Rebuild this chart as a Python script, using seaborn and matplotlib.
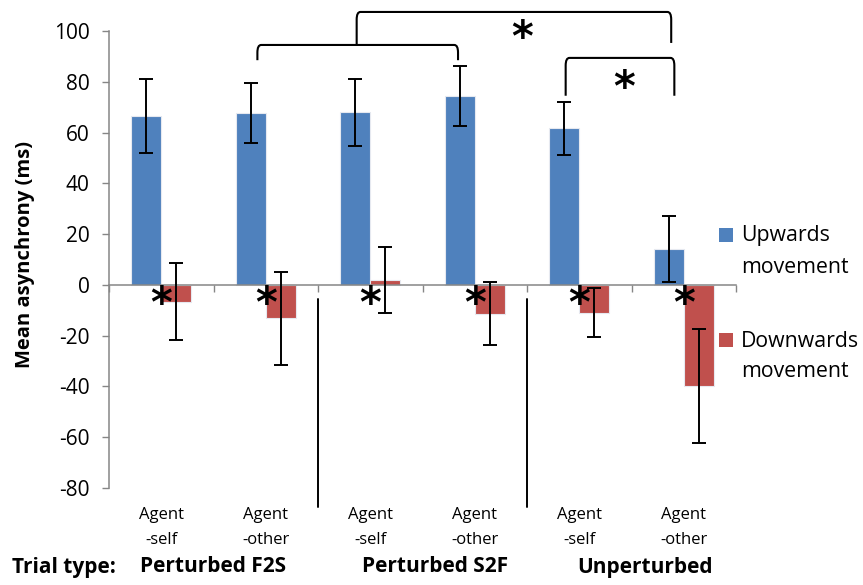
import numpy as np
import pandas as pd
import seaborn as sns
import matplotlib.pyplot as plt
from matplotlib.path import Path
from matplotlib.patches import PathPatch, Rectangle
from matplotlib.lines import Line2D
import matplotlib.transforms as mtransforms

# ---- data ----
conditions = ["F2S-self", "F2S-other", "S2F-self", "S2F-other", "Unp-self", "Unp-other"]
agent_labels = ["Agent\n-self", "Agent\n-other"] * 3
trial_types = ["Perturbed F2S", "Perturbed S2F", "Unperturbed"]
series = ["Upwards\nmovement", "Downwards\nmovement"]

upwards_mean = [66.5, 67.7, 68.0, 74.5, 61.7, 14.0]
upwards_err = [14.5, 11.8, 13.2, 11.8, 10.5, 13.0]
downwards_mean = [-6.6, -13.2, 2.1, -11.3, -11.0, -39.8]
downwards_err = [15.2, 18.3, 13.0, 12.5, 9.7, 22.5]

df = pd.DataFrame({
    "condition": conditions * 2,
    "movement": [series[0]] * 6 + [series[1]] * 6,
    "mean": upwards_mean + downwards_mean,
    "err": upwards_err + downwards_err,
})

sns.set_style("white")
plt.rcParams["font.family"] = ["Open Sans", "DejaVu Sans"]
plt.rcParams["axes.unicode_minus"] = False
plt.rcParams["text.color"] = "black"

W, H = 863, 585
fig = plt.figure(figsize=(W / 100, H / 100), dpi=100)
ax = fig.add_axes([109 / W, 1 - 488 / H, (736 - 109) / W, (488 - 31) / H])

blue = "#4F81BD"
red = "#C0504D"
sns.barplot(data=df, x="condition", y="mean", hue="movement", order=conditions,
            hue_order=series, palette=[blue, red], width=0.57, errorbar=None,
            saturation=1, linewidth=0.8, edgecolor="#e6e9f0", ax=ax, legend=False)

# error bars at the centre of each bar
for bars, means, errs in zip(ax.containers, [upwards_mean, downwards_mean],
                             [upwards_err, downwards_err]):
    xs = [b.get_x() + b.get_width() / 2 for b in bars]
    ax.errorbar(xs, means, yerr=errs, fmt="none", ecolor="black",
                elinewidth=1.4, capsize=5, capthick=1.4, zorder=5)

ax.set_xlim(-0.5, 5.5)
ax.set_ylim(-80, 100)
ax.set_yticks(np.arange(-80, 101, 20))
ax.tick_params(axis="y", labelsize=15, length=5, width=1, color="#868686",
               labelcolor="black", direction="out", pad=9, left=True)
ax.set_xticks(np.arange(-0.5, 5.6, 1))
ax.set_xticklabels([])
ax.tick_params(axis="x", length=5, width=1, color="#868686", direction="out", bottom=True)
ax.spines["bottom"].set_position(("data", 0))
for s in ["top", "right"]:
    ax.spines[s].set_visible(False)
for s in ["left", "bottom"]:
    ax.spines[s].set_color("#868686")
    ax.spines[s].set_linewidth(1.1)
ax.set_xlabel("")
ax.set_ylabel("")
fig.text(25 / W, 1 - 255 / H, "Mean asynchrony (ms)", rotation=90, ha="center",
         va="center", fontsize=14.5, fontweight="bold")

# category labels under the axis
trans = mtransforms.blended_transform_factory(ax.transData, fig.transFigure)
for i, lab in enumerate(agent_labels):
    top, bot = lab.split("\n")
    ax.text(i, 1 - 515 / H, top, transform=trans, ha="center", va="center", fontsize=12)
    ax.text(i, 1 - 540 / H, bot, transform=trans, ha="center", va="center", fontsize=12)
fig.text(12 / W, 1 - 567 / H, "Trial type:", ha="left", va="center",
         fontsize=15, fontweight="bold")
for cx, tt in zip([0.5, 2.62, 4.63], trial_types):
    ax.text(cx, 1 - 567 / H, tt, transform=trans, ha="center", va="center",
            fontsize=15, fontweight="bold")

# separators between trial types
for xs in [1.5, 3.5]:
    ax.add_line(Line2D([xs, xs], [-5.5, -87.5], color="black", lw=1.4, clip_on=False))

# significance asterisks next to the downward bars
for i in range(6):
    ax.text(i, -8, "*", ha="center", va="center", fontsize=30,
            fontweight="bold", family="DejaVu Sans", zorder=6)


def bracket(pts, r=1.2):
    """Polyline with softly rounded corners."""
    verts = [pts[0]]
    codes = [Path.MOVETO]
    for k in range(1, len(pts) - 1):
        p0, p1, p2 = np.array(pts[k - 1]), np.array(pts[k]), np.array(pts[k + 1])
        d0 = (p0 - p1) / np.linalg.norm(p0 - p1)
        d2 = (p2 - p1) / np.linalg.norm(p2 - p1)
        sc = np.array([0.03, 2.5]) * r
        verts += [tuple(p1 + d0 * sc), tuple(p1), tuple(p1 + d2 * sc)]
        codes += [Path.LINETO, Path.CURVE3, Path.CURVE3]
    verts.append(pts[-1])
    codes.append(Path.LINETO)
    ax.add_patch(PathPatch(Path(verts, codes), fill=False, lw=1.5,
                           edgecolor="black", clip_on=False))


bracket([(0.92, 88.5), (0.92, 94.5), (2.84, 94.5), (2.84, 88.5)])
bracket([(1.87, 94.5), (1.87, 107.5), (4.88, 107.5), (4.88, 95.3)])
bracket([(3.87, 74.5), (3.87, 89.4), (4.91, 89.4), (4.91, 74.5)])
ax.text(3.45, 97, "*", ha="center", va="center", fontsize=30, fontweight="bold",
        family="DejaVu Sans", clip_on=False)
ax.text(4.43, 77, "*", ha="center", va="center", fontsize=30, fontweight="bold",
        family="DejaVu Sans", clip_on=False)

# legend: coloured square beside the first line of each two-line label
legend_rows = [(series[0], blue, 228, 241, 273), (series[1], red, 333, 347, 377)]
for label, col, sq_top, base1, base2 in legend_rows:
    fig.patches.append(Rectangle((719 / W, 1 - (sq_top + 14) / H), 14 / W, 14 / H,
                                 transform=fig.transFigure, facecolor=col,
                                 edgecolor="none"))
    l1, l2 = label.split("\n")
    fig.text(741 / W, 1 - base1 / H, l1, ha="left", va="baseline", fontsize=15.3)
    fig.text(741 / W, 1 - base2 / H, l2, ha="left", va="baseline", fontsize=15.3)

fig.savefig("out.png", dpi=100)
